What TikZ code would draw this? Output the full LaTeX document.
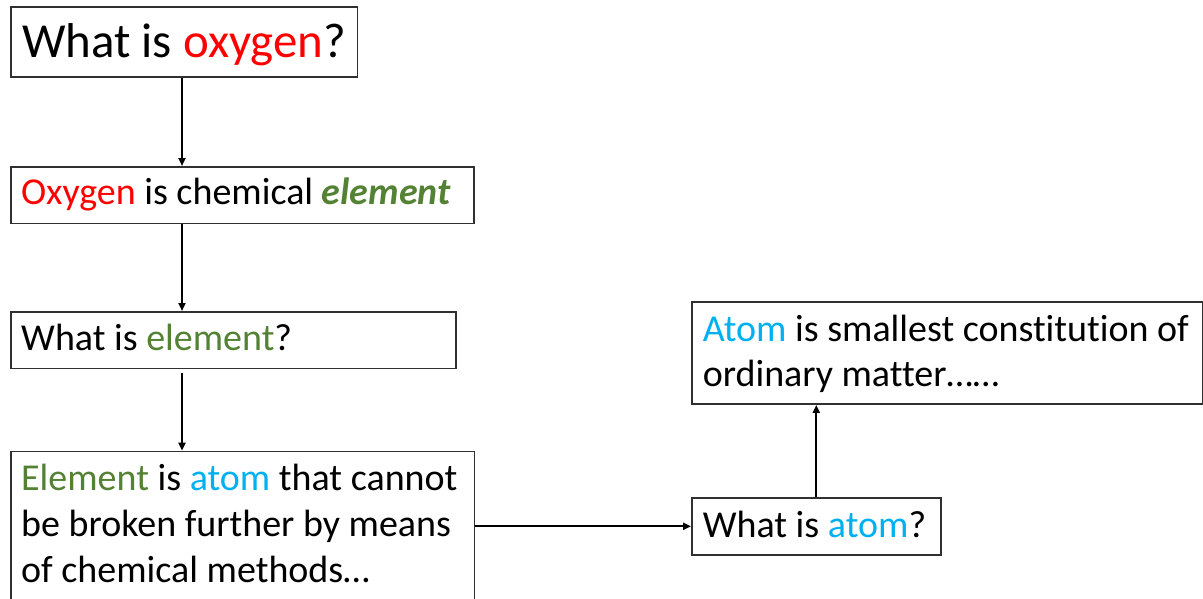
\documentclass[tikz,border=0pt]{standalone}
\usepackage{fontspec}
\setmainfont[Ligatures=CommonOff]{Carlito}
\usetikzlibrary{arrows.meta}
\definecolor{cred}{HTML}{FF0000}
\definecolor{cgreen}{HTML}{548235}
\definecolor{cblue}{HTML}{00B0F0}
\definecolor{edge}{HTML}{303030}
\tikzset{
  boxshape/.style={draw=edge, line width=1.6pt, inner sep=0pt, anchor=north west},
  txt/.style={anchor=base west, inner sep=0pt, font=\fontsize{38}{45}\selectfont},
  bigtxt/.style={anchor=base west, inner sep=0pt, font=\fontsize{48.9}{58}\selectfont},
  arr/.style={line width=2pt, -{Triangle[length=8pt,width=7pt]}}
}
\begin{document}
\begin{tikzpicture}[x=1pt,y=-1pt]
\useasboundingbox (0,0) rectangle (1203,598);
% boxes
\node[boxshape, minimum width=346.7pt, minimum height=69.7pt] (b1) at (10,6.3) {};
\node[boxshape, minimum width=463.3pt, minimum height=56.7pt] (b2) at (10,166) {};
\node[boxshape, minimum width=445pt, minimum height=56.7pt] (b3) at (10,311) {};
\node[boxshape, minimum width=463.7pt, minimum height=160pt] (b4) at (10,450.7) {};
\node[boxshape, minimum width=249pt, minimum height=57pt] (b5) at (691,497) {};
\node[boxshape, minimum width=511pt, minimum height=102.3pt] (b6) at (691,301) {};
% texts
\node[bigtxt] (t1) at (22,57) {What is \textcolor{cred}{oxygen}?};
\node[txt] (t2) at (21,204) {\textcolor{cred}{Oxygen} is chemical \textcolor{cgreen}{\textbf{\textit{element}}}};
\node[txt] (t3) at (21,350.7) {What is \textcolor{cgreen}{element}?};
\node[txt] (t4a) at (21,490) {\textcolor{cgreen}{Element} is \textcolor{cblue}{atom} that cannot};
\node[txt] (t4b) at (21,536.7) {be broken further by means};
\node[txt] (t4c) at (21,582.7) {of chemical methods…};
\node[txt] (t5) at (702.6,537.3) {What is \textcolor{cblue}{atom}?};
\node[txt] (t6a) at (702.6,341) {\textcolor{cblue}{Atom} is smallest constitution of};
\node[txt] (t6b) at (702.6,386.7) {ordinary matter……};
% connectors
\coordinate (ax) at (182,0);
\draw[arr] (b1.south -| ax) -- (b2.north -| ax);
\draw[arr] (b2.south -| ax) -- (b3.north -| ax);
\draw[arr] ([yshift=-4pt]b3.south -| ax) -- (b4.north -| ax);
\draw[arr] (b4.east |- b5.west) -- (b5.west);
\draw[arr] (b5.north) -- (b6.south -| b5.north);
\end{tikzpicture}
\end{document}
